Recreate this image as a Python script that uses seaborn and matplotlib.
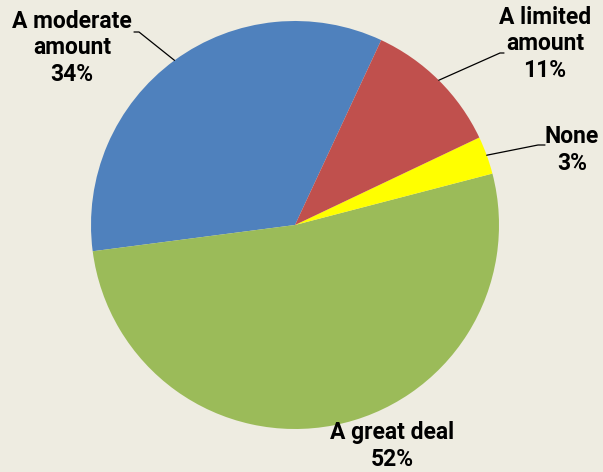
import numpy as np
import seaborn as sns
import matplotlib.pyplot as plt

# slices, in drawing order (counterclockwise from the start angle)
labels = ["A moderate\namount", "A great deal", "None", "A limited\namount"]
shares = [34, 52, 3, 11]
colors = ["#4F81BD", "#9BBB59", "#FFFF00", "#C0504D"]

sns.set_style("white")
plt.rcParams['font.family'] = ['Roboto', 'DejaVu Sans']

bg = "#EEECE1"
fig = plt.figure(figsize=(6.03, 4.72), dpi=100, facecolor=bg)
ax = fig.add_axes([0, 0, 1, 1])
ax.set_facecolor(bg)

cx, cy, r = 295, 247, 204
wedges, _ = ax.pie(shares, colors=colors, startangle=65, counterclock=True,
                   center=(cx, cy), radius=r, frame=True,
                   wedgeprops=dict(linewidth=0))
ax.set_xlim(0, 603)
ax.set_ylim(0, 472)
ax.set_aspect("equal")
ax.axis("off")

# label position (pixels from top-left), and elbow of the leader line
label_pos = [(72, 48), (392, 446), (572, 150), (545, 44)]
elbows = [(139, 32), None, (538, 145), (500, 53)]
text_ends = [(134, 32), None, (545, 145), (504, 53)]

for w, lab, s, (tx, ty), el, te in zip(wedges, labels, shares, label_pos, elbows, text_ends):
    ax.text(tx, 472 - ty, f"{lab}\n{s}%", ha="center", va="center",
            fontsize=16.5, fontweight="bold", linespacing=1.22, color="black")
    if el is None:
        continue
    mid = np.deg2rad((w.theta1 + w.theta2) / 2)
    px, py = cx + r * np.cos(mid), cy + r * np.sin(mid)
    ax.plot([te[0], el[0], px], [472 - te[1], 472 - el[1], py],
            color="black", lw=0.9)

fig.savefig("out.png", dpi=100, facecolor=bg)
